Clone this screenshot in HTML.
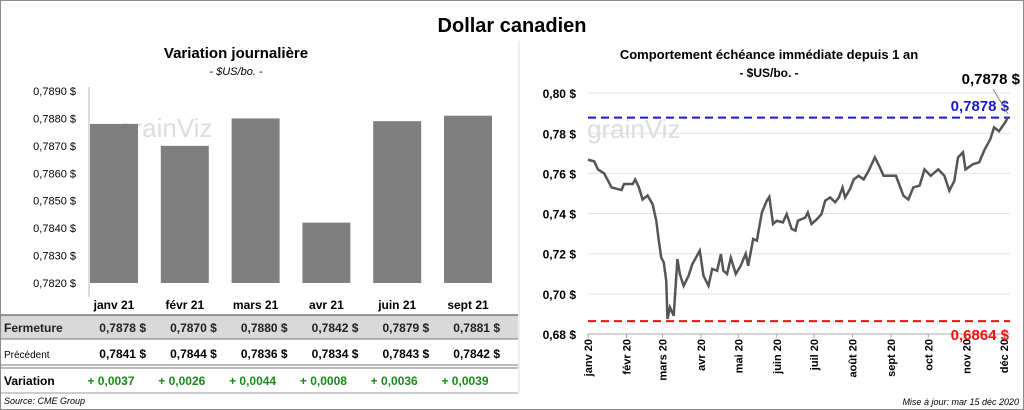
<!DOCTYPE html>
<html><head><meta charset="utf-8"><style>
body{margin:0;background:#fff;font-family:"Liberation Sans",sans-serif}
#wrap{position:relative;width:1022px;height:408px;border:1px solid #8c8c8c;overflow:hidden}
.t{position:absolute;white-space:nowrap}
</style></head><body>
<div id="wrap">
<svg id="svg" width="1022" height="408" style="position:absolute;left:0;top:0" font-family="Liberation Sans, sans-serif"></svg>
</div>
<script>
const barCats=["janv 21","févr 21","mars 21","avr 21","juin 21","sept 21"];
const closeVals=[0.7878,0.7870,0.7880,0.7842,0.7879,0.7881];
const prevVals=[0.7841,0.7844,0.7836,0.7834,0.7843,0.7842];
const leftTicks=[0.7820,0.7830,0.7840,0.7850,0.7860,0.7870,0.7880,0.7890];
const lineDays=[0,5,8,13,19,27,29,36,38,41,44,48,52,55,57,59,61,63,64,66,69,72,74,77,81,84,90,93,97,100,104,107,109,112,115,119,123,127,129,133,136,140,144,146,149,152,157,160,164,167,169,175,177,180,184,188,191,195,199,202,205,207,211,214,218,222,226,231,235,238,243,248,254,258,262,267,271,276,282,287,291,295,298,302,304,310,315,319,324,327,331,334,336,338];
const lineVals=[0.7668,0.766,0.762,0.760,0.753,0.7517,0.7547,0.7547,0.757,0.753,0.747,0.749,0.7447,0.7364,0.7265,0.718,0.7157,0.7065,0.6875,0.6933,0.6891,0.7173,0.7098,0.704,0.709,0.7148,0.7215,0.709,0.704,0.7124,0.7115,0.7198,0.7115,0.7099,0.718,0.7099,0.714,0.720,0.714,0.7273,0.7265,0.7405,0.7464,0.7483,0.7348,0.7364,0.7356,0.7397,0.7323,0.7315,0.7364,0.738,0.7405,0.7348,0.737,0.7397,0.7464,0.748,0.7456,0.748,0.753,0.748,0.7522,0.757,0.7588,0.757,0.7613,0.768,0.763,0.7588,0.7588,0.7588,0.7489,0.747,0.753,0.7539,0.762,0.7588,0.762,0.7588,0.7514,0.7563,0.768,0.7705,0.762,0.7646,0.7655,0.7713,0.7771,0.7829,0.781,0.7837,0.7854,0.7879];
const rightTicks=[0.68,0.70,0.72,0.74,0.76,0.78,0.80];
const monthLabels=["janv 20","févr 20","mars 20","avr 20","mai 20","juin 20","juil 20","août 20","sept 20","oct 20","nov 20","déc 20"];
const monthDays=[0,31,60,91,121,152,182,213,244,274,305,335];
const highVal=0.7878, lowVal=0.6864, lastVal=0.7878;

const S=document.getElementById('svg');const NS='http://www.w3.org/2000/svg';
function mk(tag,at,txt){const e=document.createElementNS(NS,tag);for(const k in at)e.setAttribute(k,at[k]);if(txt!=null)e.textContent=txt;S.appendChild(e);return e;}
const fr=(v,d)=>v.toFixed(d).replace('.',',');
// titles
let e;
e=mk('text',{x:511,y:31,'text-anchor':'middle','font-size':20,'font-weight':'bold'},'Dollar canadien');

e=mk('text',{x:235,y:57,'text-anchor':'middle','font-size':15,'font-weight':'bold'},'Variation  journalière');

e=mk('text',{x:235,y:74,'text-anchor':'middle','font-size':11,'font-style':'italic'},'- $US/bo. -');

e=mk('text',{x:768,y:58,'text-anchor':'middle','font-size':13,'font-weight':'bold'},'Comportement échéance immédiate depuis 1 an');

e=mk('text',{x:768,y:76,'text-anchor':'middle','font-size':12,'font-weight':'bold'},'- $US/bo. -');

// left chart
const ly=v=>282-(v-0.7820)/0.001*27.43;
const bx=i=>113+i*70.8;
mk('line',{x1:88,y1:86,x2:88,y2:296,stroke:'#bbb'});
leftTicks.forEach(v=>{e=mk('text',{x:75,y:ly(v)+4,'text-anchor':'end','font-size':11},fr(v,4)+' $');
});
e=mk('text',{x:118,y:136,'font-size':26,fill:'#ddd'},'grainViz');
closeVals.forEach((v,i)=>{e=mk('rect',{x:bx(i)-24,y:ly(v),width:48,height:282-ly(v),fill:'#7f7f7f'});
});
// table
mk('rect',{x:0,y:314,width:517,height:24,fill:'#d9d9d9'});
mk('line',{x1:0,y1:314,x2:517,y2:314,stroke:'#777','stroke-width':1.5});
mk('line',{x1:0,y1:338,x2:517,y2:338,stroke:'#777'});
mk('line',{x1:0,y1:364,x2:517,y2:364,stroke:'#777'});
mk('line',{x1:0,y1:367,x2:517,y2:367,stroke:'#777'});
mk('line',{x1:0,y1:392,x2:517,y2:392,stroke:'#999'});
barCats.forEach((c,i)=>{e=mk('text',{x:bx(i),y:308,'text-anchor':'middle','font-size':12,'font-weight':'bold'},c);

e=mk('text',{x:bx(i)+32,y:331,'text-anchor':'end','font-size':12,'font-weight':'bold',fill:'#222'},fr(closeVals[i],4)+'  $');

e=mk('text',{x:bx(i)+32,y:357,'text-anchor':'end','font-size':12,'font-weight':'bold'},fr(prevVals[i],4)+'  $');

const d=closeVals[i]-prevVals[i];
e=mk('text',{x:bx(i)-3,y:384,'text-anchor':'middle','font-size':12,'font-weight':'bold',fill:'#1a8a1a'},(d>=0?'+ ':'- ')+fr(Math.abs(d),4));
});
mk('text',{x:3,y:331,'font-size':12,'font-weight':'bold',fill:'#222'},'Fermeture');
mk('text',{x:3,y:357,'font-size':10},'Précédent');
mk('text',{x:3,y:384,'font-size':12,'font-weight':'bold'},'Variation');
e=mk('text',{x:3,y:403,'font-size':9,'font-style':'italic'},'Source: CME Group');

mk('line',{x1:518,y1:40,x2:518,y2:392,stroke:'#ddd'});
// right chart
const rx=d=>587+d*1.2418;
const ry=v=>333-(v-0.68)/0.02*40.15;
rightTicks.forEach(v=>{mk('line',{x1:587,y1:ry(v),x2:1009,y2:ry(v),stroke:'#e3e3e3'});
e=mk('text',{x:575,y:ry(v)+5,'text-anchor':'end','font-size':12,'font-weight':'bold'},fr(v,2)+' $');
});
mk('line',{x1:587,y1:333,x2:1009,y2:333,stroke:'#aaa'});
monthDays.forEach((d,i)=>{mk('line',{x1:rx(d),y1:333,x2:rx(d),y2:337,stroke:'#aaa'});
e=mk('text',{transform:`translate(${rx(d)+4},${338}) rotate(-90)`,'text-anchor':'end','font-size':11,'font-weight':'bold'},monthLabels[i]);
});
e=mk('text',{x:586,y:137,'font-size':26,fill:'#ddd'},'grainViz');
mk('line',{x1:587,y1:ry(highVal),x2:1009,y2:ry(highVal),stroke:'#1a1ac8','stroke-width':2,'stroke-dasharray':'8,5'});
mk('line',{x1:587,y1:ry(lowVal),x2:1009,y2:ry(lowVal),stroke:'#f01010','stroke-width':2,'stroke-dasharray':'8,5'});
e=mk('polyline',{points:lineDays.map((d,i)=>rx(d)+','+ry(lineVals[i])).join(' '),fill:'none',stroke:'#555','stroke-width':2.5});

e=mk('text',{x:1008,y:110,'text-anchor':'end','font-size':15,'font-weight':'bold',fill:'#1a1ac8'},fr(highVal,4)+' $');

e=mk('text',{x:1008,y:339,'text-anchor':'end','font-size':15,'font-weight':'bold',fill:'#f01010'},fr(lowVal,4)+' $');

e=mk('text',{x:1019,y:83,'text-anchor':'end','font-size':15,'font-weight':'bold'},fr(lastVal,4)+' $');

mk('line',{x1:992,y1:88,x2:1007,y2:113,stroke:'#888'});
e=mk('text',{x:1018,y:404,'text-anchor':'end','font-size':9,'font-style':'italic'},'Mise à jour: mar 15 déc 2020');

</script>
</body></html>
